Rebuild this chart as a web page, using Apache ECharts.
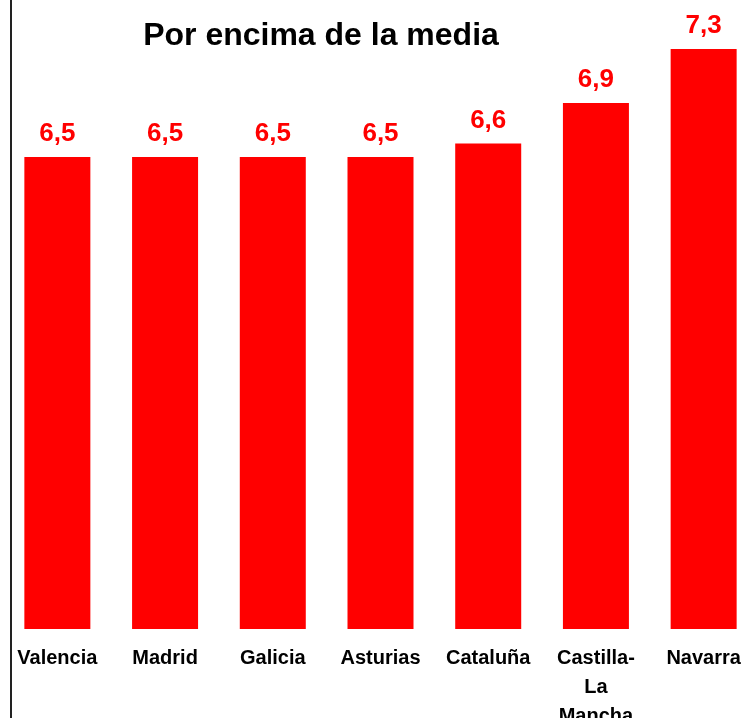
<!DOCTYPE html>
<html>
<head>
<meta charset="utf-8">
<script src="https://cdn.jsdelivr.net/npm/echarts@6/dist/echarts.min.js"></script>
<style>
  html, body { margin: 0; padding: 0; background: #fff; }
  #chart { width: 746px; height: 718px; }
</style>
</head>
<body>
<div id="chart"></div>
<script>
// Regions scoring above the average
const regions = ['Valencia', 'Madrid', 'Galicia', 'Asturias', 'Cataluña', 'Castilla-\nLa\nMancha', 'Navarra'];
const scores = [6.5, 6.5, 6.5, 6.5, 6.6, 6.9, 7.3];
const titleText = 'Por encima de la media';

const chart = echarts.init(document.getElementById('chart'), null, { renderer: 'canvas' });

chart.setOption({
  animation: false,
  backgroundColor: '#ffffff',
  title: {
    text: titleText,
    left: 316,
    textAlign: 'center',
    top: 15,
    textStyle: {
      fontFamily: 'Liberation Sans, Arial, sans-serif',
      fontWeight: 'bold',
      fontSize: 32,
      color: '#000'
    }
  },
  grid: {
    left: 3.5,
    width: 754,
    top: 22,
    height: 607,
    containLabel: false,
    outerBoundsMode: 'none'
  },
  xAxis: {
    type: 'category',
    data: regions,
    axisLine: { show: false },
    axisTick: { show: false },
    axisLabel: {
      interval: 0,
      margin: 15,
      fontFamily: 'Liberation Sans, Arial, sans-serif',
      fontWeight: 'bold',
      fontSize: 20,
      lineHeight: 29,
      color: '#000'
    }
  },
  yAxis: {
    type: 'value',
    min: 3,
    max: 7.5,
    axisLine: { show: false },
    axisTick: { show: false },
    axisLabel: { show: false },
    splitLine: { show: false }
  },
  series: [{
    type: 'bar',
    data: scores,
    barWidth: 66,
    itemStyle: { color: '#ff0000' },
    label: {
      show: true,
      position: 'top',
      distance: 10,
      formatter: p => String(p.value).replace('.', ','),
      fontFamily: 'Liberation Sans, Arial, sans-serif',
      fontWeight: 'bold',
      fontSize: 26,
      color: '#ff0000'
    }
  }],
  graphic: [{
    type: 'line',
    shape: { x1: 11, y1: 0, x2: 11, y2: 718 },
    style: { stroke: '#222', lineWidth: 2 },
    silent: true
  }]
});
</script>
</body>
</html>
